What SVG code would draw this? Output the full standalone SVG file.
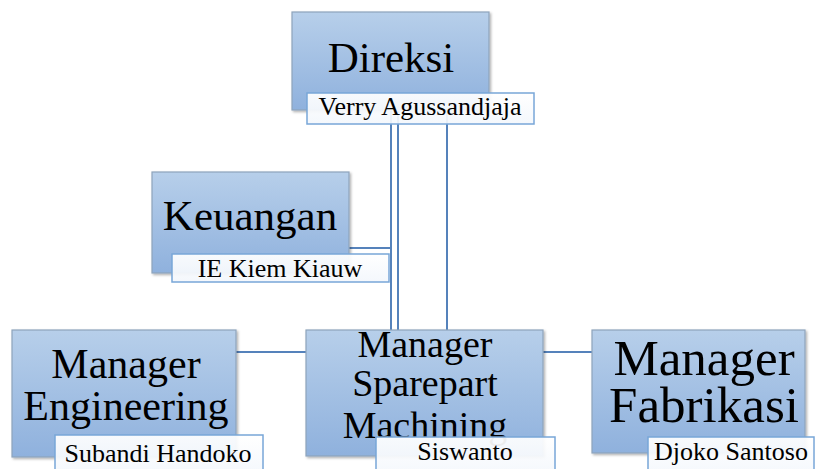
<svg xmlns="http://www.w3.org/2000/svg" width="817" height="469" viewBox="0 0 817 469">
<defs>
<linearGradient id="boxg" x1="0" y1="0" x2="0" y2="1">
<stop offset="0" stop-color="#b7cfea"/>
<stop offset="1" stop-color="#8fb1dd"/>
</linearGradient>
<linearGradient id="labg" x1="0" y1="0" x2="0" y2="1">
<stop offset="0" stop-color="#ffffff" stop-opacity="0.93"/>
<stop offset="1" stop-color="#f3f7fc" stop-opacity="0.93"/>
</linearGradient>
<filter id="sh" x="-5%" y="-5%" width="115%" height="115%">
<feDropShadow dx="1.5" dy="1.5" stdDeviation="1" flood-color="#000" flood-opacity="0.3"/>
</filter>
</defs>
<style>
.box{fill:url(#boxg);stroke:#8ea4bb;stroke-width:1.2;filter:url(#sh)}
.lab{fill:url(#labg);stroke:#78a6d8;stroke-width:1.5}
.t{font-family:"Liberation Serif","Times New Roman",serif;fill:#000;text-anchor:middle}
.l{font-family:"Liberation Serif","Times New Roman",serif;fill:#000;font-size:26px;text-anchor:middle}
.c{stroke:#5582bb;stroke-width:2;fill:none}
</style>
<rect width="817" height="469" fill="#fff"/>
<g id="connectors">
<line class="c" x1="391" y1="110" x2="391" y2="330"/>
<line class="c" x1="398" y1="110" x2="398" y2="330"/>
<line class="c" x1="447" y1="110" x2="447" y2="330"/>
<line class="c" x1="349" y1="248" x2="391" y2="248"/>
<line class="c" x1="236" y1="352" x2="306" y2="352"/>
<line class="c" x1="543" y1="352" x2="592" y2="352"/>
</g>
<g id="direksi">
<rect class="box" x="292" y="12" width="197" height="98"/>
<text class="t" x="391" y="72" font-size="43">Direksi</text>
<rect class="lab" x="307" y="93" width="227" height="31"/>
<text class="l" x="420" y="115" font-size="25">Verry Agussandjaja</text>
</g>
<g id="keuangan">
<rect class="box" x="152" y="172" width="197" height="101"/>
<text class="t" x="250" y="230" font-size="43">Keuangan</text>
<rect class="lab" x="172" y="254" width="217" height="28"/>
<text class="l" x="280" y="277">IE Kiem Kiauw</text>
</g>
<g id="engineering">
<rect class="box" x="12" y="330" width="224" height="127"/>
<text class="t" x="126" y="378" font-size="42">Manager</text>
<text class="t" x="126" y="420" font-size="42">Engineering</text>
<rect class="lab" x="55" y="435" width="208" height="40"/>
<text class="l" x="158" y="462">Subandi Handoko</text>
</g>
<g id="sparepart">
<rect class="box" x="306" y="330" width="237" height="126"/>
<text class="t" x="425" y="357" font-size="38">Manager</text>
<text class="t" x="425" y="396" font-size="38">Sparepart</text>
<text class="t" x="425" y="438" font-size="38">Machining</text>
<rect class="lab" x="376" y="437" width="179" height="40"/>
<text class="l" x="465" y="460">Siswanto</text>
</g>
<g id="fabrikasi">
<rect class="box" x="592" y="330" width="213" height="123"/>
<text class="t" x="704" y="375" font-size="51">Manager</text>
<text class="t" x="704" y="422" font-size="51">Fabrikasi</text>
<rect class="lab" x="648" y="437" width="166" height="40"/>
<text class="l" x="731" y="460">Djoko Santoso</text>
</g>
</svg>
